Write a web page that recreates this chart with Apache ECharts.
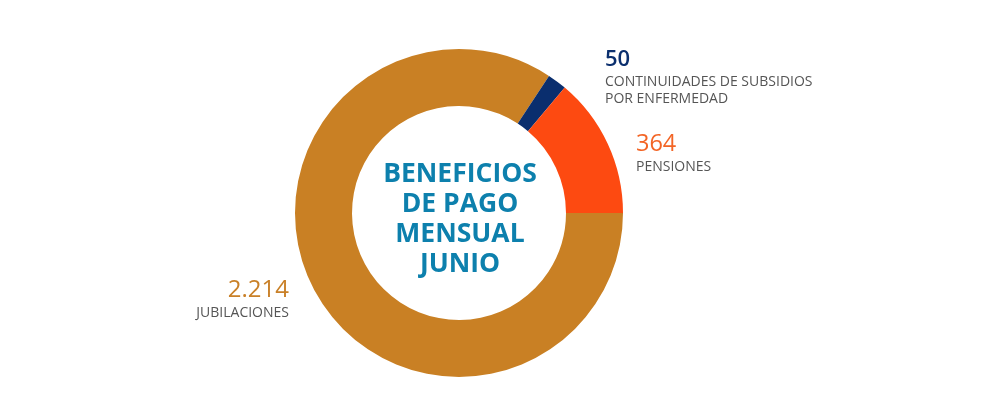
<!DOCTYPE html>
<html>
<head>
<meta charset="utf-8">
<script src="https://cdn.jsdelivr.net/npm/echarts@6/dist/echarts.min.js"></script>
<style>
  html, body { margin: 0; padding: 0; background: #fff; }
  #chart { width: 1000px; height: 417px; }
</style>
</head>
<body>
<div id="chart"></div>
<script>
// data, clockwise from 3 o'clock
const categories = ['JUBILACIONES', 'CONTINUIDADES DE SUBSIDIOS\nPOR ENFERMEDAD', 'PENSIONES'];
const values = [2214, 50, 364];
const colors = ['#c98024', '#0a2e6e', '#fd4a11'];
const valueColors = ['#c98028', '#0b2f6e', '#f36526'];
const centerTitle = 'BENEFICIOS\nDE PAGO\nMENSUAL\nJUNIO';

// where each label block sits (top-left / top-right corner)
const labelSpots = [
  {x: 289, y: 277, align: 'right'},
  {x: 605, y: 46, align: 'left'},
  {x: 636, y: 131, align: 'left'}
];

const fmt = v => String(v).replace(/\B(?=(\d{3})+(?!\d))/g, '.');

const chart = echarts.init(document.getElementById('chart'));

const option = {
  animation: false,
  color: colors,
  textStyle: {fontFamily: '"Open Sans", sans-serif'},
  graphic: [{
    type: 'text',
    x: 460,
    y: 219,
    style: {
      text: centerTitle,
      align: 'center',
      verticalAlign: 'middle',
      fill: '#0d80ad',
      font: 'bold 26.5px "Open Sans", sans-serif',
      lineHeight: 30
    }
  }],
  series: [{
    type: 'pie',
    center: [459, 213],
    radius: [107, 164],
    startAngle: 0,
    clockwise: true,
    silent: true,
    emphasis: {disabled: true},
    labelLine: {show: false},
    data: values.map((v, i) => ({
      value: v,
      name: categories[i],
      label: {
        rich: {
          v: {fontSize: i === 1 ? 22 : (i === 0 ? 24 : 23.5), fontWeight: i === 1 ? 600 : 400, color: valueColors[i], lineHeight: 27, align: labelSpots[i].align},
          n: {fontSize: 14, color: '#555', lineHeight: 17.5, align: labelSpots[i].align}
        }
      }
    })),
    label: {
      show: true,
      position: 'outside',
      formatter: p => '{v|' + fmt(p.value) + '}\n' +
        p.name.split('\n').map(s => '{n|' + s + '}').join('\n')
    },
    labelLayout: p => {
      const s = labelSpots[p.dataIndex];
      return {x: s.x, y: s.y, align: s.align, verticalAlign: 'top'};
    }
  }]
};

chart.setOption(option);
</script>
</body>
</html>
